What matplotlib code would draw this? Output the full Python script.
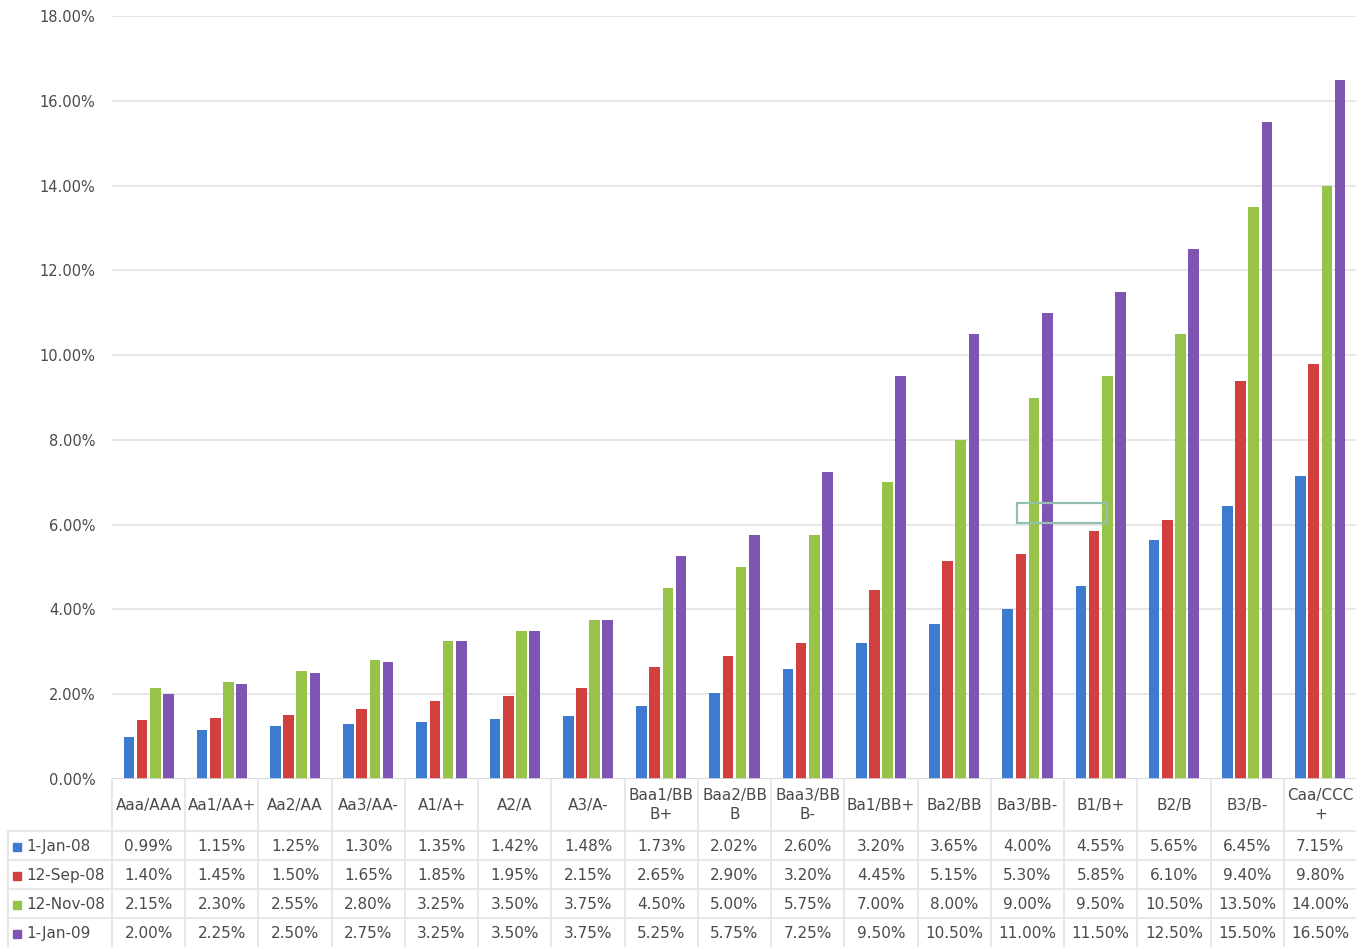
import matplotlib.pyplot as plt
import matplotlib.patches as mpatches
import numpy as np

plt.rcParams['font.family'] = ['DejaVu Sans']

# Ratings and yield spreads (%) on four dates
ratings = ["Aaa/AAA", "Aa1/AA+", "Aa2/AA", "Aa3/AA-", "A1/A+", "A2/A", "A3/A-",
           "Baa1/BB\nB+", "Baa2/BB\nB", "Baa3/BB\nB-", "Ba1/BB+", "Ba2/BB",
           "Ba3/BB-", "B1/B+", "B2/B", "B3/B-", "Caa/CCC\n+"]
dates = ["1-Jan-08", "12-Sep-08", "12-Nov-08", "1-Jan-09"]
jan08 = [0.99, 1.15, 1.25, 1.30, 1.35, 1.42, 1.48, 1.73, 2.02, 2.60, 3.20, 3.65, 4.00, 4.55, 5.65, 6.45, 7.15]
sep08 = [1.40, 1.45, 1.50, 1.65, 1.85, 1.95, 2.15, 2.65, 2.90, 3.20, 4.45, 5.15, 5.30, 5.85, 6.10, 9.40, 9.80]
nov08 = [2.15, 2.30, 2.55, 2.80, 3.25, 3.50, 3.75, 4.50, 5.00, 5.75, 7.00, 8.00, 9.00, 9.50, 10.50, 13.50, 14.00]
jan09 = [2.00, 2.25, 2.50, 2.75, 3.25, 3.50, 3.75, 5.25, 5.75, 7.25, 9.50, 10.50, 11.00, 11.50, 12.50, 15.50, 16.50]
series = [jan08, sep08, nov08, jan09]
colors = ["#3d7bd0", "#d23f3f", "#98c34a", "#7e55b3"]

W, H = 1356, 947
fig = plt.figure(figsize=(W / 100, H / 100), dpi=100)
txt = "#4a4a4a"
grid_c = "#e3e3e3"
fs = 11

# pixel layout of the plot area
x0, x1 = 112, 1357
y_top, y_zero = 16, 779
ax = fig.add_axes([x0 / W, 1 - y_zero / H, (x1 - x0) / W, (y_zero - y_top) / H])

n = len(ratings)
x = np.arange(n)
bw = 0.145
step = 0.18
for i, (vals, c) in enumerate(zip(series, colors)):
    ax.bar(x + (i - 1.5) * step, vals, width=bw, color=c, zorder=3, linewidth=0)

ax.set_xlim(-0.5, n - 0.5)
ax.set_ylim(0, 18)
ax.set_yticks(np.arange(0, 18.1, 2))
ax.set_yticklabels([f"{v:.2f}%" for v in np.arange(0, 18.1, 2)], color=txt, fontsize=10.5)
ax.tick_params(axis="y", length=0, pad=12)
ax.set_xticks([])
ax.grid(axis="y", color=grid_c, linewidth=1.2, zorder=0)
for s in ax.spines.values():
    s.set_visible(False)
ax.axhline(0, color="#d8d8d8", linewidth=1.2, zorder=4)

# data table under the plot area
tx0 = 8
tax = fig.add_axes([tx0 / W, 0, (x1 - tx0) / W, (H - y_zero) / H])
unit = (x1 - x0) / n
left_edge = -0.5 - (x0 - tx0) / unit
tax.set_xlim(left_edge, n - 0.5)
tax.set_ylim(H, y_zero)
tax.axis("off")

row_lines = [831, 860, 889, 918, 947]
for yl in row_lines[:-1]:
    tax.plot([left_edge, n - 0.5], [yl, yl], color=grid_c, lw=1.2, clip_on=False)
for b in np.arange(-0.5, n, 1.0):
    tax.plot([b, b], [y_zero, H], color=grid_c, lw=1.2, clip_on=False)
tax.plot([left_edge, left_edge], [row_lines[0], H], color=grid_c, lw=1.2, clip_on=False)

for j, lab in enumerate(ratings):
    tax.text(j, 805, lab, ha="center", va="center", color=txt, fontsize=fs,
             linespacing=1.3)

for i, (d, vals, c) in enumerate(zip(dates, series, colors)):
    yc = (row_lines[i] + row_lines[i + 1]) / 2 + 1
    tax.add_patch(mpatches.Rectangle((left_edge + 0.07, yc - 4), 0.11, 8, color=c, clip_on=False))
    tax.text(left_edge + 0.25, yc, d, ha="left", va="center", color=txt, fontsize=fs)
    for j, v in enumerate(vals):
        tax.text(j, yc, f"{v:.2f}%", ha="center", va="center", color=txt, fontsize=fs)

# stray outline box inside the plot area
fig.patches.append(mpatches.Rectangle((1017 / W, 1 - 523 / H), 90 / W, 20 / H,
                                      transform=fig.transFigure, fill=False,
                                      edgecolor="#92c0ad", lw=1.6, zorder=5))

fig.savefig("out.png", dpi=100, facecolor="white")
